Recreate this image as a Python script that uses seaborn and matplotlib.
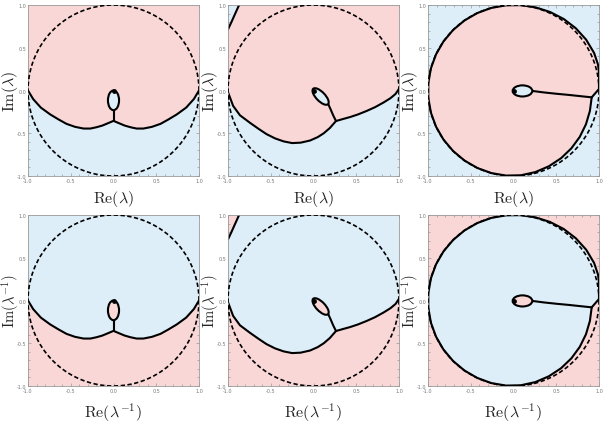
import numpy as np
import seaborn as sns
import matplotlib.pyplot as plt
from matplotlib.patches import Ellipse
from matplotlib.ticker import MultipleLocator

sns.set_style('ticks')
plt.rcParams['mathtext.fontset'] = 'cm'

PINK = '#FAD7D7'
BLUE = '#DDEEF9'

# panel 1: symmetric scallop boundary
P1_X = [-1.0, -0.94, -0.85, -0.74, -0.64, -0.55, -0.45, -0.35, -0.27, -0.2, -0.13, -0.07, -0.03, 0.0,
        0.03, 0.07, 0.13, 0.2, 0.27, 0.35, 0.45, 0.55, 0.64, 0.74, 0.85, 0.94, 1.0]
P1_Y = [0.0, -0.1, -0.2, -0.28, -0.34, -0.39, -0.425, -0.445, -0.445, -0.43, -0.41, -0.385, -0.368, -0.355,
        -0.368, -0.385, -0.41, -0.43, -0.445, -0.445, -0.425, -0.39, -0.34, -0.28, -0.2, -0.1, 0.0]
P1_STEM_X = [0.0, 0.0]
P1_STEM_Y = [-0.355, -0.23]
P1_OVAL = [0.0, -0.115, 0.13, 0.23, 0.0]  # cx, cy, w, h, angle

# panel 2: tilted boundary plus corner arc
P2_X = [-1.0, -0.94, -0.86, -0.74, -0.64, -0.55, -0.45, -0.35, -0.25, -0.15, -0.04, 0.05, 0.12, 0.19, 0.263,
        0.34, 0.43, 0.52, 0.62, 0.72, 0.82, 0.9, 0.96, 1.0]
P2_Y = [-0.02, -0.18, -0.29, -0.38, -0.45, -0.51, -0.56, -0.595, -0.615, -0.61, -0.585, -0.545, -0.5, -0.44, -0.357,
        -0.335, -0.31, -0.28, -0.24, -0.195, -0.14, -0.09, -0.04, 0.02]
P2_CORNER_X = [-1.0, -0.96, -0.92, -0.87]
P2_CORNER_Y = [0.715, 0.8, 0.89, 1.0]
P2_STEM_X = [0.263, 0.23, 0.2, 0.173]
P2_STEM_Y = [-0.357, -0.29, -0.22, -0.16]
P2_OVAL = [0.083, -0.07, 0.25, 0.105, -46.0]

# panel 3: near-circle boundary (polar, degrees)
P3_THETA = [-5, 1, 6, 11, 17, 25, 35, 45, 55, 65, 75, 85, 95, 105, 115, 125, 135, 145, 155, 165, 175,
            185, 195, 205, 215, 225, 235, 245, 255, 265, 275, 285, 295, 305, 315, 325, 335, 345, 355]
P3_RADIUS = [0.918, 1.0, 1.005, 1.02, 1.034, 1.04, 1.037, 1.03, 1.022, 1.013, 1.006, 1.002, 1.0, 1.0, 1.0, 1.0,
             1.0, 1.0, 1.0, 1.0, 1.0, 1.0, 1.0, 1.0, 1.0, 1.0, 1.0, 1.0, 1.0, 0.999, 0.995, 0.988, 0.978,
             0.968, 0.957, 0.946, 0.935, 0.925, 0.918]
P3_BRANCH_X = [0.915, 0.8, 0.65, 0.5, 0.35, 0.22]
P3_BRANCH_Y = [-0.08, -0.068, -0.052, -0.038, -0.022, -0.005]
P3_OVAL = [0.105, -0.005, 0.23, 0.13, 0.0]

TICKS = [-1.0, -0.5, 0.0, 0.5, 1.0]

fig = plt.figure(figsize=(6.06, 4.31), dpi=100)
lefts = [28 / 606, 228 / 606, 428 / 606]
bottoms = [(431 - 177) / 431, (431 - 387) / 431]
w, h = 171 / 606, 171 / 431

th = np.linspace(0, 2 * np.pi, 400)
p3x = list(np.array(P3_RADIUS) * np.cos(np.radians(P3_THETA)))
p3y = list(np.array(P3_RADIUS) * np.sin(np.radians(P3_THETA)))


def line(ax, xs, ys):
    sns.lineplot(x=xs, y=ys, sort=False, estimator=None, color='black', linewidth=1.5, ax=ax)


def oval(ax, spec, fc):
    ax.add_patch(Ellipse((spec[0], spec[1]), spec[2], spec[3], angle=spec[4],
                         facecolor=fc, edgecolor='black', linewidth=1.5, zorder=3))


for row in range(2):
    inner, outer = (PINK, BLUE) if row == 0 else (BLUE, PINK)
    for col in range(3):
        ax = fig.add_axes([lefts[col], bottoms[row], w, h])
        ax.set_facecolor(outer)
        if col == 0:
            ax.fill(P1_X + [1.0, -1.0], P1_Y + [1.0, 1.0], color=inner, lw=0)
            line(ax, P1_X, P1_Y)
            line(ax, P1_STEM_X, P1_STEM_Y)
            oval(ax, P1_OVAL, outer)
        elif col == 1:
            ax.fill(P2_X + [1.0] + P2_CORNER_X[::-1], P2_Y + [1.0] + P2_CORNER_Y[::-1], color=inner, lw=0)
            line(ax, P2_X, P2_Y)
            line(ax, P2_CORNER_X, P2_CORNER_Y)
            line(ax, P2_STEM_X, P2_STEM_Y)
            oval(ax, P2_OVAL, outer)
        else:
            ax.fill(p3x, p3y, color=inner, lw=0)
            line(ax, p3x, p3y)
            line(ax, P3_BRANCH_X, P3_BRANCH_Y)
            oval(ax, P3_OVAL, outer)
        ax.plot(np.cos(th), np.sin(th), color='black', linestyle=(0, (2.6, 1.5)), linewidth=1.2, zorder=4)
        ax.scatter([0], [0], s=6, color='black', zorder=5)

        ax.set_xlim(-1, 1)
        ax.set_ylim(-1, 1)
        ax.set_xticks(TICKS)
        ax.set_yticks(TICKS)
        ax.set_xticklabels([f'{t:.1f}' for t in TICKS])
        ax.set_yticklabels([f'{t:.1f}' for t in TICKS])
        ax.xaxis.set_minor_locator(MultipleLocator(0.1))
        ax.yaxis.set_minor_locator(MultipleLocator(0.1))
        ax.tick_params(which='both', direction='in', top=True, right=True, width=0.5,
                       color='#999999', labelsize=3.5, labelcolor='#777777', pad=1.5)
        ax.tick_params(which='major', length=2.5)
        ax.tick_params(which='minor', length=1.3)
        for s in ax.spines.values():
            s.set_color('#999999')
            s.set_linewidth(0.6)
        if row == 0:
            ax.set_xlabel(r'$\mathrm{Re}(\lambda)$', fontsize=11.5, va='center')
            ax.set_ylabel(r'$\mathrm{Im}(\lambda)$', fontsize=11.5, va='center')
            ax.xaxis.set_label_coords(0.5, -0.126)
            ax.yaxis.set_label_coords(-0.107, 0.5)
        else:
            ax.set_xlabel(r'$\mathrm{Re}(\lambda^{-1})$', fontsize=11.5, va='center')
            ax.set_ylabel(r'$\mathrm{Im}(\lambda^{-1})$', fontsize=10.5, va='center')
            ax.xaxis.set_label_coords(0.5, -0.15)
            ax.yaxis.set_label_coords(-0.105, 0.5)

fig.savefig('out.png', dpi=100)
